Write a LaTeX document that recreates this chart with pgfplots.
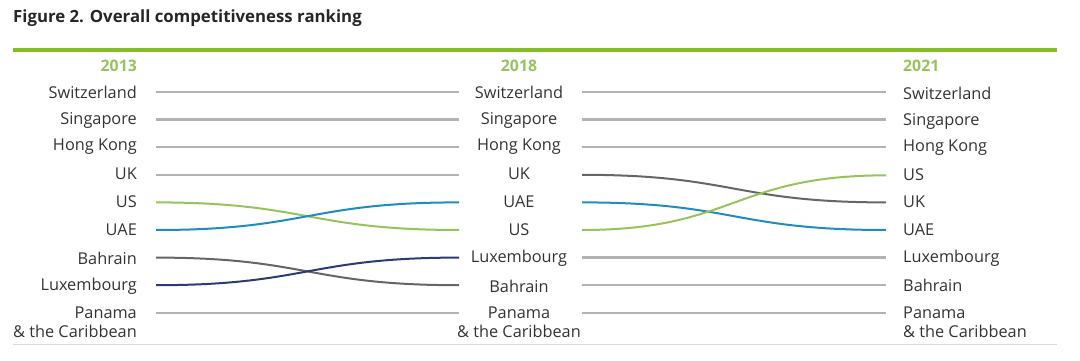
\documentclass[border=0pt]{standalone}
\usepackage{fontspec}
\setmainfont{Open Sans}
\usepackage{pgfplots}
\pgfplotsset{compat=1.18}
\definecolor{dgreen}{HTML}{86BC25}
\definecolor{ygreen}{HTML}{96C35A}
\definecolor{lgrey}{HTML}{B2B2B2}
\definecolor{dgrey}{HTML}{666666}
\definecolor{teal}{HTML}{1E8CBE}
\definecolor{navy}{HTML}{2B3A78}
\definecolor{txt}{HTML}{333333}
\makeatletter
\newif\ifbump@started
\newdimen\bump@px \newdimen\bump@py
\newdimen\bump@cx \newdimen\bump@cy \newdimen\bump@d
\def\pgfplothandlerbump{%
  \def\pgf@plotstreamstart{%
    \global\bump@startedfalse
    \global\let\pgf@plotstreampoint=\bump@handler
    \global\let\pgf@plotstreamspecial=\@gobble
    \global\let\pgf@plotstreamend=\relax
  }%
}
\def\bump@handler#1{%
  \pgf@process{#1}%
  \bump@cx=\pgf@x \bump@cy=\pgf@y
  \ifbump@started
    \bump@d=\bump@cx \advance\bump@d by -\bump@px \bump@d=0.5\bump@d
    \pgfpathcurveto{\pgfqpoint{\dimexpr\bump@px+\bump@d\relax}{\bump@py}}%
      {\pgfqpoint{\dimexpr\bump@cx-\bump@d\relax}{\bump@cy}}%
      {\pgfqpoint{\bump@cx}{\bump@cy}}%
  \else
    \pgfpathmoveto{\pgfqpoint{\bump@cx}{\bump@cy}}%
    \global\bump@startedtrue
  \fi
  \global\bump@px=\bump@cx \global\bump@py=\bump@cy
}
\tikzset{bump/.code={\def\tikz@plot@handler{\pgfplothandlerbump}}}
\makeatother
\newcommand\PX[2]{({#1pt},{361pt-#2pt})}
\begin{document}
\begin{tikzpicture}
\useasboundingbox (0,0) rectangle (1080pt,361pt);
\begin{axis}[at={(0,0)}, anchor=south west, width=1080pt, height=361pt,
  scale only axis, xmin=0, xmax=1080, ymin=-2.33333, ymax=10.74638,
  y dir=reverse, hide axis, clip=false]
% unchanged (light grey)
\pgfplotsset{every axis plot/.append style={bump, no markers}}
\addplot[lgrey, line width=2.5pt] coordinates {(156,1) (459,1)};
\addplot[lgrey, line width=2.5pt] coordinates {(156,2) (459,2)};
\addplot[lgrey, line width=2.5pt] coordinates {(156,3) (459,3)};
\addplot[lgrey, line width=2.5pt] coordinates {(156,4) (459,4)};
\addplot[lgrey, line width=2.5pt] coordinates {(156,9) (459,9)};
\addplot[lgrey, line width=2.5pt] coordinates {(582,1) (886,1)};
\addplot[lgrey, line width=2.5pt] coordinates {(582,2) (886,2)};
\addplot[lgrey, line width=2.5pt] coordinates {(582,3) (886,3)};
\addplot[lgrey, line width=2.5pt] coordinates {(582,7) (886,7)};
\addplot[lgrey, line width=2.5pt] coordinates {(582,8) (886,8)};
\addplot[lgrey, line width=2.5pt] coordinates {(582,9) (886,9)};
% 2013 -> 2018
\addplot[ygreen, line width=2pt] coordinates {(156,5) (459,6)}; % US
\addplot[teal, line width=2pt] coordinates {(156,6) (459,5)}; % UAE
\addplot[dgrey, line width=2pt] coordinates {(156,7) (459,8)}; % Bahrain
\addplot[navy, line width=2pt] coordinates {(156,8) (459,7)}; % Luxembourg
% 2018 -> 2021
\addplot[dgrey, line width=2pt] coordinates {(582,4) (886,5)}; % UK
\addplot[teal, line width=2pt] coordinates {(582,5) (886,6)}; % UAE
\addplot[ygreen, line width=2pt] coordinates {(582,6) (886,4.02)}; % US
\end{axis}
% title and frame lines
\node[anchor=west, text=black!85, font=\fontsize{16.8}{20}\selectfont\bfseries, inner sep=0pt] at \PX{13}{18} {Figure 2. Overall competitiveness ranking};
\draw[dgreen, line width=4pt] \PX{13}{50} -- \PX{1057}{50};
\draw[black!15, line width=1pt] \PX{13}{345} -- \PX{1057}{345};
\begin{scope}[every node/.style={inner sep=0pt, text=txt, font=\fontsize{16.3}{19}\selectfont}]
\node[anchor=east, text=ygreen, font=\fontsize{15.8}{18}\selectfont\bfseries] at \PX{137}{66} {2013};
\node[anchor=center, text=ygreen, font=\fontsize{15.8}{18}\selectfont\bfseries] at \PX{519}{66} {2018};
\node[anchor=west, text=ygreen, font=\fontsize{15.8}{18}\selectfont\bfseries] at \PX{903}{66} {2021};
% 2013 column
\node[anchor=east] at \PX{137}{92} {Switzerland};
\node[anchor=east] at \PX{137}{120} {Singapore};
\node[anchor=east] at \PX{137}{147} {Hong Kong};
\node[anchor=east] at \PX{137}{174} {UK};
\node[anchor=east] at \PX{137}{202} {US};
\node[anchor=east] at \PX{137}{230} {UAE};
\node[anchor=east] at \PX{137}{258} {Bahrain};
\node[anchor=east] at \PX{137}{286} {Luxembourg};
\node[anchor=east] at \PX{137}{313} {Panama};
\node[anchor=east] at \PX{137}{331} {\& the Caribbean};
% 2018 column
\node at \PX{519}{92} {Switzerland};
\node at \PX{519}{120} {Singapore};
\node at \PX{519}{147} {Hong Kong};
\node at \PX{519}{174} {UK};
\node at \PX{519}{202} {UAE};
\node at \PX{519}{230} {US};
\node at \PX{519}{258} {Luxembourg};
\node at \PX{519}{286} {Bahrain};
\node at \PX{519}{313} {Panama};
\node at \PX{519}{331} {\& the Caribbean};
% 2021 column
\node[anchor=west] at \PX{903}{93} {Switzerland};
\node[anchor=west] at \PX{903}{121} {Singapore};
\node[anchor=west] at \PX{903}{148} {Hong Kong};
\node[anchor=west] at \PX{903}{175} {US};
\node[anchor=west] at \PX{903}{202} {UK};
\node[anchor=west] at \PX{903}{230} {UAE};
\node[anchor=west] at \PX{903}{258} {Luxembourg};
\node[anchor=west] at \PX{903}{285} {Bahrain};
\node[anchor=west] at \PX{903}{313} {Panama};
\node[anchor=west] at \PX{903}{331} {\& the Caribbean};
\end{scope}
\end{tikzpicture}
\end{document}
